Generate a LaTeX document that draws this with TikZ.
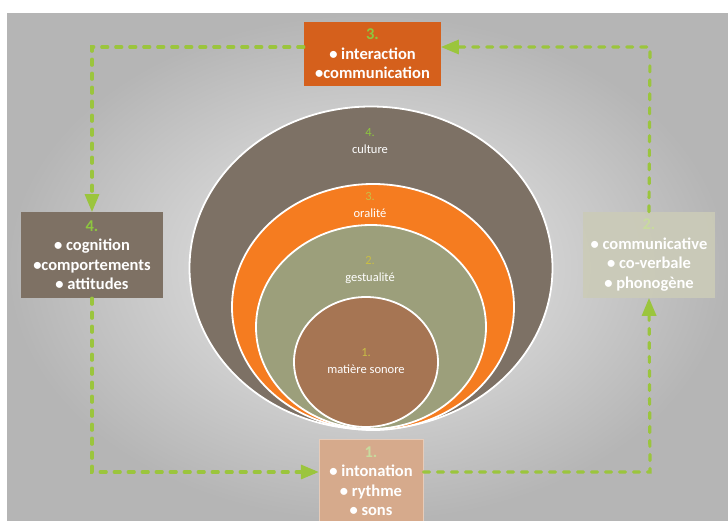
\documentclass[tikz,border=0pt]{standalone}
\usepackage{fontspec}
\setmainfont{Carlito}
\usepackage{tikz}
\usetikzlibrary{arrows,shapes.geometric}
\newcommand{\ringw}{1.8pt}
\newcommand{\loopw}{3.2pt}
\newcommand{\boxfont}{\bfseries\fontsize{16.5}{19.5}\selectfont}
\newcommand{\ringfont}{\fontsize{12.5}{17}\selectfont}
\definecolor{cultcol}{HTML}{7D7165}
\definecolor{oralcol}{HTML}{F57C20}
\definecolor{gestcol}{HTML}{9C9F7B}
\definecolor{soncol}{HTML}{A67553}
\definecolor{topcol}{HTML}{D5601C}
\definecolor{leftcol}{HTML}{7E7164}
\definecolor{rightcol}{HTML}{CBCBB8}
\definecolor{botcol}{HTML}{D6AA8C}
\definecolor{loopgreen}{HTML}{9BC53D}
\definecolor{digitgreen}{HTML}{8DC63F}
\definecolor{digitpale}{HTML}{C8DB9E}
\definecolor{digitolive}{HTML}{C9BE45}

\begin{document}
\begin{tikzpicture}[x=1pt, y=-1pt, >=triangle 45]
        \tikzset{ring/.style = {ellipse, draw=white, line width=\ringw, inner sep=0pt},
                 ringtext/.style = {align=center, text=white, font=\ringfont},
                 box/.style = {rectangle, inner sep=0pt, align=center, text=white, font=\boxfont},
                 loopline/.style = {draw=loopgreen, line width=\loopw, line cap=round, dash pattern=on 6pt off 8pt}}
        \clip (0,0) rectangle (728,521);
        \fill[white] (0,0) rectangle (728,521);
        \shade[inner color=gray!14, outer color=gray!58] (7,14) rectangle (728,521);
        % rings
        \node[ring, fill=cultcol, minimum width=363, minimum height=323] (culture) at (371,268) {};
        \node[ring, fill=oralcol, minimum width=282, minimum height=246] (oral) at (373,307) {};
        \node[ring, fill=gestcol, minimum width=230, minimum height=204] (gest) at (371,327) {};
        \node[ring, fill=soncol, minimum width=144, minimum height=130] (son) at (366,362) {};
        \node[ringtext] (tculture) at (370,141) {{\color{digitgreen}4.}\\culture};
        \node[ringtext] (toral) at (370,205) {{\color{digitolive}3.}\\oralité};
        \node[ringtext] (tgest) at (370,270) {{\color{digitolive}2.}\\gestualité};
        \node[ringtext] (tson) at (366,361) {{\color{digitolive}1.}\\matière sonore};
        % loop corners
        \coordinate (ctl) at (92,47);
        \coordinate (ctr) at (650,47);
        \coordinate (cbl) at (92,472);
        \coordinate (cbr) at (650,472);
        % boxes
        \node[box, fill=topcol, minimum width=137, minimum height=64] (top) at (372.5,54) {{\color{digitgreen}3.}\\• interaction\\•communication};
        \node[box, fill=leftcol, minimum width=142, minimum height=86] (left) at (92,255) {{\color{digitgreen}4.}\\• cognition\\•comportements\\• attitudes};
        \node[box, fill=rightcol, fill opacity=0.9, text opacity=1, minimum width=132, minimum height=86] (right) at (649,255) {{\color{digitpale}2.}\\• communicative\\• co-verbale\\• phonogène};
        \node[box, fill=botcol, draw=botcol!60!white, line width=1pt, minimum width=104, minimum height=84] (bot) at (371,481) {{\color{digitpale}1.}\\• intonation\\• rythme\\• sons};
        % dashed loop
        \draw[loopline, ->] (bot.east |- cbr) -- (cbr) -- (right.south);
        \draw[loopline, ->] (right.north) -- (ctr) -- (top.east |- ctr);
        \draw[loopline, ->] (top.west |- ctl) -- (ctl) -- (left.north);
        \draw[loopline, ->] (left.south) -- (cbl) -- (bot.west |- cbl);
\end{tikzpicture}
\end{document}
